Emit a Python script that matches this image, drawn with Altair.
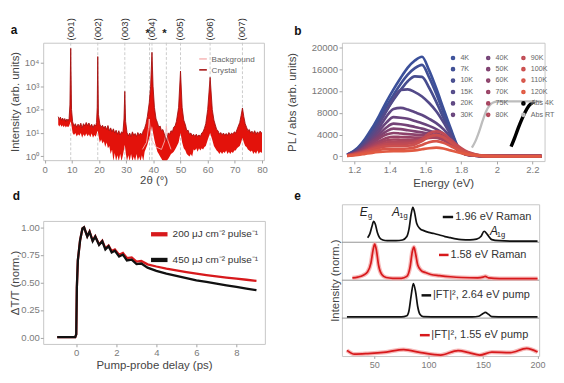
import altair as alt
import pandas as pd

FONT = "Liberation Sans"

# ---------------- panel a: XRD (log10 intensity, envelope of the noisy trace) ----------------
xrd_2theta = [5.0, 5.4, 5.8, 6.2, 6.6, 7.0, 7.4, 7.8, 8.2, 8.6, 9.0, 9.3, 9.6, 9.9,
              10.3, 10.8, 11.3, 11.8, 12.3, 12.8, 13.3, 13.8, 14.3, 14.8, 15.3, 15.8, 16.3, 16.8, 17.3, 17.8,
              18.3, 18.8, 19.1, 19.35, 19.55, 19.8,
              20.3, 20.8, 21.3, 21.8, 22.3, 22.8, 23.3, 23.8, 24.3, 24.8, 25.3, 25.8, 26.3, 26.8, 27.3, 27.8,
              28.3, 28.8, 29.2, 29.5, 29.8,
              30.3, 30.8, 31.3, 31.8, 32.3, 32.8, 33.3, 33.8, 34.3, 34.8, 35.3, 35.8, 36.3, 36.8,
              37.3, 37.8, 38.5, 39.0, 39.5, 39.9, 40.4, 41.0, 41.5, 42.0, 42.5, 43.0, 43.5, 44.0, 44.8, 45.5,
              46.0, 46.5, 47.0, 47.5, 48.0, 48.5, 49.3, 50.0, 50.6,
              51.2, 51.8, 52.3, 52.8, 53.3, 53.8, 54.3, 54.8, 55.3, 55.8, 56.3, 56.8, 57.3, 57.8, 58.3, 58.8,
              59.3, 60.0, 60.9, 61.7,
              62.3, 62.8, 63.3, 63.8, 64.3, 64.8, 65.3, 65.8, 66.3, 66.8, 67.3, 67.8, 68.3, 68.8, 69.3, 69.8,
              70.3, 70.8, 71.3, 71.8, 72.3, 72.8, 73.3,
              73.8, 74.3, 74.8, 75.3, 75.8, 76.3, 76.8, 77.3, 77.8, 78.3, 78.8, 79.3, 79.8, 80.0]
xrd_log_low = [1.35, 1.28, 1.36, 1.27, 1.33, 1.25, 1.32, 1.24, 1.30, 1.25, 1.30, 1.40, 1.50, 1.30,
               1.00, 0.92, 1.00, 0.85, 0.95, 0.88, 1.00, 0.80, 0.95, 0.85, 0.98, 0.86, 0.95, 0.82, 0.98, 0.80,
               0.92, 0.84, 0.95, 1.05, 1.10, 0.90,
               0.60, 0.72, 0.55, 0.65, 0.40, 0.60, 0.35, 0.45, 0.10, 0.30, -0.20, 0.15, -0.20, 0.05, -0.20, 0.10,
               -0.20, 0.05, 0.30, 0.50, 0.20,
               -0.20, 0.05, -0.20, 0.10, -0.20, 0.00, -0.20, 0.10, -0.20, 0.00, -0.20, 0.05, -0.20, 0.20,
               0.35, 0.50, 0.80, 1.00, 1.30, 1.00, 0.70, 0.40, 0.20, 0.10, 0.00, -0.10, -0.20, -0.20, -0.20, -0.10,
               0.00, 0.10, 0.15, 0.20, 0.30, 0.40, 0.60, 1.00, 0.60,
               0.35, 0.25, 0.10, 0.05, 0.00, 0.10, 0.00, 0.30, 0.25, 0.35, 0.20, 0.35, 0.25, 0.35, 0.30, 0.40,
               0.45, 0.70, 1.00, 0.70,
               0.45, 0.35, 0.25, 0.20, 0.10, 0.20, 0.10, 0.20, 0.15, 0.25, 0.10, 0.20, 0.10, 0.20, 0.15, 0.25,
               0.25, 0.35, 0.40, 0.45, 0.60, 0.80, 0.60,
               0.45, 0.40, 0.30, 0.25, 0.20, 0.25, 0.10, 0.20, 0.10, 0.25, 0.10, 0.20, 0.15, 0.20]
xrd_log_high = [1.70, 1.58, 1.68, 1.55, 1.64, 1.54, 1.62, 1.50, 1.60, 1.52, 1.62, 2.20, 4.62, 2.00,
                1.48, 1.30, 1.40, 1.25, 1.38, 1.28, 1.42, 1.22, 1.40, 1.30, 1.45, 1.32, 1.43, 1.28, 1.38, 1.22,
                1.36, 1.30, 1.45, 2.10, 4.27, 1.80,
                1.38, 1.25, 1.33, 1.20, 1.30, 1.15, 1.32, 1.10, 1.22, 1.05, 1.18, 1.00, 1.12, 0.95, 1.10, 0.92,
                1.05, 1.00, 1.60, 2.78, 1.50,
                1.02, 0.88, 1.00, 0.85, 1.05, 0.90, 0.98, 0.85, 1.02, 0.90, 1.00, 0.92, 1.10, 1.20,
                1.40, 1.70, 2.30, 3.00, 4.45, 3.00, 2.10, 1.60, 1.45, 1.25, 1.30, 1.10, 1.15, 0.98, 0.65, 1.00,
                0.95, 1.10, 1.05, 1.25, 1.30, 1.50, 2.10, 3.65, 2.10,
                1.55, 1.35, 1.10, 1.12, 0.95, 1.00, 0.88, 0.95, 0.85, 0.95, 0.85, 0.92, 0.85, 1.00, 1.05, 1.20,
                1.40, 2.00, 3.38, 2.00,
                1.55, 1.35, 1.15, 1.10, 0.95, 1.02, 0.92, 1.00, 0.90, 0.98, 0.90, 1.02, 0.92, 1.00, 0.95, 1.05,
                1.00, 1.15, 1.30, 1.45, 1.75, 2.07, 1.70,
                1.40, 1.25, 1.10, 1.15, 1.00, 1.08, 0.98, 1.10, 0.95, 1.05, 0.98, 1.08, 1.00, 1.02]
assert len(xrd_2theta) == len(xrd_log_low) == len(xrd_log_high)
bg_2theta = [36, 37.5, 38.2, 38.5, 38.8, 39.3, 41, 43, 44.3, 44.8, 45.3, 46.5]
bg_log = [0.30, 0.60, 1.20, 1.60, 1.20, 0.70, 0.40, 0.30, 0.70, 1.30, 0.70, 0.30]
peak_pos = [9.6, 19.55, 29.5, 39.5, 50.0, 60.9, 72.8]
peak_labels = ["(001)", "(002)", "(003)", "(004)", "(005)", "(006)", "(007)"]
star_pos = [38.6, 44.8]

# ---------------- panel b: PL / absorption ----------------
energies = [1.16, 1.22, 1.26, 1.30, 1.34, 1.38, 1.42, 1.46, 1.50, 1.54, 1.58, 1.62, 1.66, 1.70, 1.74, 1.78,
            1.82, 1.86, 1.90, 1.95, 2.00, 2.25]
pl_temps = ["4K", "7K", "10K", "15K", "20K", "30K", "40K", "50K", "60K", "70K", "75K", "80K",
            "90K", "100K", "110K", "120K"]
pl_4K = [300, 1600, 3200, 5200, 7500, 10000, 12300, 14400, 16300, 17600, 18300, 15800, 12500, 8800, 5200, 1900, 600, 250, 120, 60, 40, 30]
pl_7K = [280, 1450, 2950, 4800, 6900, 9200, 11300, 13300, 15000, 16200, 16800, 14500, 11500, 8100, 4800, 1750, 550, 230, 110, 55, 40, 30]
pl_10K = [260, 1350, 2700, 4400, 6300, 8400, 10400, 12200, 13800, 14700, 14600, 12600, 10000, 7100, 4200, 1600, 500, 200, 100, 50, 40, 30]
pl_15K = [240, 1250, 2500, 4100, 6000, 8300, 10600, 12200, 12300, 11800, 11000, 9800, 8300, 6300, 4000, 1600, 500, 200, 100, 50, 40, 30]
pl_20K = [220, 1100, 2200, 3600, 5300, 7300, 8700, 8900, 8600, 8100, 7600, 6900, 6100, 5000, 3500, 1500, 500, 200, 100, 50, 40, 30]
pl_30K = [200, 1000, 2000, 3200, 4700, 6200, 7200, 7100, 6900, 6500, 6100, 5600, 5000, 4200, 3000, 1400, 450, 180, 90, 50, 40, 30]
pl_40K = [190, 900, 1800, 2900, 4100, 5300, 6000, 5900, 5700, 5400, 5100, 4700, 4300, 3700, 2700, 1300, 420, 170, 90, 50, 40, 30]
pl_50K = [180, 850, 1700, 2700, 3700, 4600, 5100, 5000, 4800, 4600, 4400, 4200, 3900, 3400, 2500, 1200, 400, 160, 80, 50, 40, 30]
pl_60K = [170, 800, 1550, 2400, 3300, 4000, 4300, 4200, 4100, 4000, 3900, 3800, 3600, 3100, 2300, 1150, 450, 180, 80, 50, 40, 30]
pl_70K = [160, 700, 1350, 2100, 2800, 3350, 3600, 3550, 3500, 3450, 3450, 3500, 3450, 3000, 2200, 1300, 600, 250, 100, 50, 40, 30]
pl_75K = [150, 650, 1200, 1850, 2450, 2900, 3100, 3050, 3000, 3000, 3150, 3400, 3500, 3100, 2300, 1400, 700, 300, 120, 50, 40, 30]
pl_80K = [140, 600, 1100, 1650, 2150, 2550, 2700, 2650, 2650, 2750, 3100, 3700, 4000, 3600, 2600, 1600, 900, 450, 180, 60, 40, 30]
pl_90K = [130, 550, 950, 1450, 1900, 2200, 2300, 2300, 2350, 2550, 3200, 4200, 4600, 4200, 3100, 2000, 1100, 550, 220, 70, 40, 30]
pl_100K = [120, 480, 850, 1250, 1600, 1850, 1900, 1900, 1950, 2200, 2800, 3600, 3900, 3500, 2600, 1700, 950, 480, 200, 60, 40, 30]
pl_110K = [100, 380, 650, 950, 1200, 1350, 1400, 1400, 1450, 1650, 2100, 2600, 2800, 2500, 1900, 1250, 700, 350, 150, 50, 30, 20]
pl_120K = [80, 250, 450, 650, 800, 900, 950, 950, 1000, 1100, 1300, 1500, 1600, 1450, 1100, 750, 420, 220, 100, 40, 20, 20]
pl_colors = ["#3b509a", "#404f95", "#474d8f", "#534a89", "#5e4783", "#69457d", "#744377", "#804271",
             "#8c426b", "#994265", "#a6445f", "#b3475a", "#c04a54", "#cc4f4e", "#d75448", "#e15a42"]
abs_rt_energy = [1.86, 1.88, 1.90, 1.92, 1.94, 1.96, 1.98, 2.00, 2.05, 2.25]
abs_rt = [1600, 2800, 4500, 6500, 8300, 9400, 9900, 10050, 10100, 10100]
abs_4k_energy = [2.08, 2.10, 2.12, 2.14, 2.16, 2.18, 2.20, 2.215]
abs_4k = [1800, 3400, 5200, 6800, 8200, 9300, 9900, 10100]
b_y_ticks = [0, 4000, 8000, 12000, 16000, 20000]

# ---------------- panel d: transient transmission ----------------
delay_ps = [-0.95, -0.5, -0.05, 0.0, 0.03, 0.08, 0.19, 0.31, 0.39, 0.55, 0.665, 0.82, 0.95, 1.14, 1.30, 1.455,
            1.615, 1.77, 1.93, 2.14, 2.33, 2.53, 2.77, 3.01, 3.25, 3.56, 4.0, 4.5, 5.0, 5.5, 6.0, 6.5, 7.0, 7.5,
            8.0, 8.5, 9.0]
dtt_450 = [0.005, 0.005, 0.005, 0.03, 0.45, 0.70, 0.88, 0.99, 1.0, 0.917, 0.96, 0.874, 0.917, 0.84, 0.874, 0.80,
           0.83, 0.773, 0.788, 0.736, 0.753, 0.70, 0.707, 0.667, 0.672, 0.635, 0.605, 0.58, 0.56, 0.54, 0.52,
           0.505, 0.49, 0.475, 0.46, 0.445, 0.43]
dtt_200 = [0.005, 0.005, 0.005, 0.03, 0.45, 0.70, 0.88, 0.99, 1.0, 0.92, 0.962, 0.88, 0.92, 0.845, 0.88, 0.81,
           0.835, 0.785, 0.80, 0.752, 0.768, 0.722, 0.728, 0.69, 0.695, 0.665, 0.645, 0.625, 0.61, 0.595, 0.58,
           0.567, 0.556, 0.545, 0.535, 0.525, 0.515]
fluence_labels = ["200 μJ cm⁻² pulse⁻¹", "450 μJ cm⁻² pulse⁻¹"]

# ---------------- panel e: Raman / FT spectra (fraction of each strip) ----------------
r196_x = [44, 46, 48, 49.5, 51, 53, 55, 58, 62, 70, 76, 80, 82, 84, 85.5, 87, 89, 92, 96, 100, 105, 110, 115, 120,
          125, 130, 138, 144, 148, 151, 154, 158, 165, 175, 200]
r196_y = [0.12, 0.22, 0.42, 0.55, 0.48, 0.25, 0.12, 0.06, 0.04, 0.04, 0.06, 0.15, 0.35, 0.75, 0.92, 0.80, 0.50,
          0.36, 0.30, 0.26, 0.23, 0.19, 0.15, 0.12, 0.09, 0.07, 0.06, 0.08, 0.15, 0.29, 0.20, 0.07, 0.04, 0.03, 0.03]
r158_x = [30, 35, 40, 44, 47, 49, 50.5, 52, 54, 57, 61, 67, 75, 80, 83, 85, 86.5, 88, 90, 93, 97, 102, 110, 120,
          130, 145, 150, 152, 155, 165, 200]
r158_y = [0.06, 0.08, 0.13, 0.22, 0.45, 0.80, 0.95, 0.80, 0.40, 0.15, 0.07, 0.05, 0.05, 0.10, 0.35, 0.75, 0.87,
          0.70, 0.40, 0.26, 0.20, 0.15, 0.12, 0.09, 0.07, 0.06, 0.08, 0.10, 0.06, 0.04, 0.04]
ft264_x = [25, 40, 60, 75, 80, 82, 84, 86, 88, 90, 92, 95, 110, 140, 146, 150, 152, 155, 158, 170, 200]
ft264_y = [0.03, 0.03, 0.03, 0.03, 0.06, 0.20, 0.60, 0.91, 0.70, 0.30, 0.10, 0.04, 0.03, 0.03, 0.05, 0.12, 0.15,
           0.10, 0.04, 0.03, 0.03]
ft155_x = [25, 32, 44, 61, 77, 93, 111, 127, 137, 147, 158, 175, 190, 200]
ft155_y = [0.15, 0.05, 0.065, 0.105, 0.17, 0.09, 0.025, 0.145, 0.09, 0.025, 0.105, 0.09, 0.20, 0.105]
trace_names = ["1.96 eV Raman", "1.58 eV Raman", "|FT|², 2.64 eV pump", "|FT|², 1.55 eV pump"]
trace_colors = ["#111111", "#d7191c", "#111111", "#d7191c"]
label_x_start = [124.5, 120.0, 104.0, 102.5]
label_line_x = [113.0, 109.5, 93.5, 92.0]
label_line_x2 = [122.5, 118.3, 102.3, 101.0]
label_frac = [0.665, 0.665, 0.60, 0.55]

AX = dict(labelFlush=False, labelOverlap=False)


def letter(ch, x, y):
    return alt.Chart(pd.DataFrame({"t": [ch]})).mark_text(
        fontSize=12.5, fontWeight="bold", color="#111", align="left", baseline="alphabetic", font=FONT
    ).encode(x=alt.value(x), y=alt.value(y), text="t:N")


# ---- chart a ----
xrd_df = pd.DataFrame({"x": xrd_2theta, "lo": xrd_log_low, "hi": xrd_log_high})
xa = alt.X("x:Q", scale=alt.Scale(domain=[-0.53, 80.7], nice=False, zero=False),
           axis=alt.Axis(values=list(range(0, 81, 10)), title="2θ (°)", titlePadding=1.5, **AX))
ya = alt.Y("hi:Q", scale=alt.Scale(domain=[-0.16, 4.86], nice=False, zero=False),
           axis=alt.Axis(values=[0, 1, 2, 3, 4], title="Intensity (arb. units)", titlePadding=3.5,
                         labelExpr="'10' + (datum.value == 0 ? '⁰' : datum.value == 1 ? '¹' : datum.value == 2 ? '²' : datum.value == 3 ? '³' : '⁴')",
                         **AX))
lines_a = pd.concat([
    pd.DataFrame({"x": bg_2theta, "hi": bg_log, "s": "Background"}),
    pd.DataFrame({"x": xrd_2theta, "hi": xrd_log_high, "s": "Crystal"}),
])
vlines = pd.DataFrame({"x": peak_pos + star_pos})
a_rules = alt.Chart(vlines).mark_rule(color="#c9c9c9", strokeDash=[3, 2], strokeWidth=1).encode(x=xa)
a_band = alt.Chart(xrd_df).mark_area(color="#e3120b", clip=True).encode(x=xa, y=ya, y2="lo:Q")
a_lines = alt.Chart(lines_a).mark_line(clip=True, strokeWidth=0.9).encode(
    x=xa, y=ya,
    color=alt.Color("s:N", scale=alt.Scale(domain=["Background", "Crystal"], range=["#f6b8b8", "#a30d0d"]),
                    legend=alt.Legend(title=None, orient="none", legendX=163, legendY=12, symbolType="stroke",
                                      symbolSize=64, symbolStrokeWidth=1.6, labelFontSize=8.5, labelColor="#666",
                                      labelFont=FONT, rowPadding=1.5, labelOffset=4, padding=0)),
)
a_text = alt.Chart(pd.DataFrame({"x": peak_pos, "t": peak_labels})).mark_text(
    angle=270, align="left", baseline="middle", fontSize=10, color="#333", font=FONT
).encode(x=xa, y=alt.value(-2.5), text="t:N")
a_star = alt.Chart(pd.DataFrame({"x": star_pos, "t": ["*", "*"]})).mark_text(
    fontSize=12, color="#222", baseline="middle", font=FONT, fontWeight="bold", dx=-2
).encode(x=xa, y=alt.value(-10), text="t:N")
chart_a = alt.layer(a_rules, a_band, a_lines, a_text, a_star, letter("a", -34, -9)).properties(
    width=232, height=123.4)

# ---- chart b ----
pl_values = [pl_4K, pl_7K, pl_10K, pl_15K, pl_20K, pl_30K, pl_40K, pl_50K, pl_60K, pl_70K, pl_75K, pl_80K,
             pl_90K, pl_100K, pl_110K, pl_120K]
frames = []
for t, vals in zip(pl_temps, pl_values):
    frames.append(pd.DataFrame({"E": energies, "I": vals, "T": t, "w": 2.8}))
frames.append(pd.DataFrame({"E": abs_4k_energy, "I": abs_4k, "T": "Abs 4K", "w": 3.6}))
frames.append(pd.DataFrame({"E": abs_rt_energy, "I": abs_rt, "T": "Abs RT", "w": 2.4}))
b_df = pd.concat(frames, ignore_index=True)
all_names = pl_temps + ["Abs 4K", "Abs RT"]
all_colors = pl_colors + ["#000000", "#bdbdbd"]
chart_b = alt.layer(
    alt.Chart(b_df).mark_line(clip=True, interpolate="monotone").encode(
        x=alt.X("E:Q", scale=alt.Scale(domain=[1.1306, 2.268], nice=False, zero=False),
                axis=alt.Axis(values=[1.2, 1.4, 1.6, 1.8, 2.0, 2.2], format="~g", title="Energy (eV)",
                              titlePadding=3.5, **AX)),
        y=alt.Y("I:Q", scale=alt.Scale(domain=[-870, 20870], nice=False, zero=False),
                axis=alt.Axis(values=b_y_ticks, format="d", labelColor="#777777",
                              title="PL / abs (arb. units)", titlePadding=14, **AX)),
        color=alt.Color("T:N", scale=alt.Scale(domain=all_names, range=all_colors),
                        legend=alt.Legend(title=None, orient="none", legendX=113, legendY=12, columns=3,
                                          symbolType="circle", symbolSize=7, symbolStrokeWidth=2.2,
                                          labelFontSize=7.5, labelColor="#666", labelFont=FONT, rowPadding=0,
                                          columnPadding=10, labelOffset=4, padding=0)),
        strokeWidth=alt.StrokeWidth("w:Q", scale=None),
        detail="T:N",
    ),
    letter("b", -50, -8.5),
).properties(width=213, height=124.4)

# ---- chart d ----
d_df = pd.concat([
    pd.DataFrame({"t": delay_ps, "v": dtt_200, "s": fluence_labels[0]}),
    pd.DataFrame({"t": delay_ps, "v": dtt_450, "s": fluence_labels[1]}),
], ignore_index=True)
chart_d = alt.layer(
    alt.Chart(d_df).mark_line(strokeWidth=2.4, clip=True).encode(
        x=alt.X("t:Q", scale=alt.Scale(domain=[-1.65, 9.42], nice=False, zero=False),
                axis=alt.Axis(values=[0, 2, 4, 6, 8], title="Pump-probe delay (ps)", titlePadding=2.5, **AX)),
        y=alt.Y("v:Q", scale=alt.Scale(domain=[-0.057, 1.058], nice=False, zero=False),
                axis=alt.Axis(values=[0, 0.25, 0.5, 0.75, 1.0], format=".2f", title="ΔT/T (norm.)",
                              titlePadding=0, labelPadding=1, **AX)),
        color=alt.Color("s:N", scale=alt.Scale(domain=fluence_labels, range=["#d7191c", "#111111"]),
                        legend=alt.Legend(title=None, orient="none", legendX=111, legendY=3, symbolType="stroke",
                                          symbolSize=300, symbolStrokeWidth=4.5, labelFontSize=10.5,
                                          labelColor="#333", labelFont=FONT, rowPadding=7, labelOffset=3,
                                          padding=0)),
    ),
    letter("d", -32, -22),
).properties(width=233, height=129.3)

# ---- chart e ----
E_DOM = [20.4, 201.5]
e_frames = []
for i, (xs, ys) in enumerate([(r196_x, r196_y), (r158_x, r158_y), (ft264_x, ft264_y), (ft155_x, ft155_y)]):
    base = 3 - i
    e_frames.append(pd.DataFrame({"x": xs, "y": [base + v for v in ys], "tr": trace_names[i]}))
e_df = pd.concat(e_frames, ignore_index=True)
xe = alt.X("x:Q", scale=alt.Scale(domain=E_DOM, nice=False, zero=False),
           axis=alt.Axis(values=[50, 100, 150, 200], title=None, labelFontSize=9.5, tickSize=2.5, **AX))
ye = alt.Y("y:Q", scale=alt.Scale(domain=[0, 4], nice=False, zero=False),
           axis=alt.Axis(labels=False, ticks=False, title="Intensity (norm.)", titlePadding=1))
tr_scale = alt.Scale(domain=trace_names, range=trace_colors)
e_halo = alt.Chart(e_df).transform_filter(
    alt.FieldOneOfPredicate(field="tr", oneOf=[trace_names[1], trace_names[3]])
).mark_line(strokeWidth=4.5, color="#f4a6a6", opacity=0.8, interpolate="monotone").encode(x=xe, y=ye, detail="tr:N")
e_lines = alt.Chart(e_df).mark_line(strokeWidth=1.8, interpolate="monotone").encode(
    x=xe, y=ye, color=alt.Color("tr:N", scale=tr_scale, legend=None))
e_div = alt.Chart(pd.DataFrame({"y": [1, 2, 3]})).mark_rule(color="#8f8f8f", strokeWidth=1).encode(y=ye)
lab_df = pd.DataFrame({"x": label_x_start, "x1": label_line_x, "x2": label_line_x2,
                       "y": [3 - i + f for i, f in enumerate(label_frac)], "tr": trace_names})
e_lab_lines = alt.Chart(lab_df).mark_rule(strokeWidth=2.6).encode(
    x=alt.X("x1:Q", scale=alt.Scale(domain=E_DOM, nice=False, zero=False)), x2="x2:Q", y=ye,
    color=alt.Color("tr:N", scale=tr_scale, legend=None))
e_lab_text = alt.Chart(lab_df).mark_text(align="left", baseline="middle", fontSize=11.5, color="#333",
                                         font=FONT).encode(x=xe, y=ye, text="tr:N")
peak_main = pd.DataFrame({"x": [40.5, 70.0, 160.0], "y": [3.80, 3.80, 3.29], "t": ["E", "A", "A"]})
peak_sub = pd.DataFrame({"x": [46.3, 77.0, 166.5], "y": [3.70, 3.70, 3.19], "t": ["g", "1g", "1g"]})
e_pk = alt.Chart(peak_main).mark_text(fontSize=12.5, fontStyle="italic", color="#222", font=FONT,
                                      baseline="middle").encode(x=xe, y=ye, text="t:N")
e_pk_sub = alt.Chart(peak_sub).mark_text(fontSize=8, color="#222", font=FONT, baseline="middle").encode(
    x=xe, y=ye, text="t:N")
chart_e = alt.layer(e_div, e_halo, e_lines, e_lab_lines, e_lab_text, e_pk, e_pk_sub,
                    letter("e", -50, -4)).properties(width=207.3, height=159.5)

left_col = alt.vconcat(chart_a, chart_d, spacing=63.3, bounds="flush").resolve_scale(
    color="independent").resolve_legend(color="independent")
right_col = alt.vconcat(chart_b, chart_e, spacing=44.8, bounds="flush").resolve_scale(
    color="independent").resolve_legend(color="independent")
chart = alt.hconcat(left_col, right_col, spacing=17).resolve_scale(
    color="independent").resolve_legend(color="independent").properties(padding=0).configure_view(
    stroke="#c4c4c4", strokeWidth=1
).configure_axis(
    labelFont=FONT, titleFont=FONT, labelFontSize=10, titleFontSize=12, labelColor="#7a7a7a",
    titleColor="#454545", titleFontWeight="normal", tickColor="#a0a0a0", tickSize=3, labelPadding=1.5,
    domain=False, grid=False
).configure_text(font=FONT)

chart.save("out.html", embed_options={"renderer": "svg", "actions": False})
